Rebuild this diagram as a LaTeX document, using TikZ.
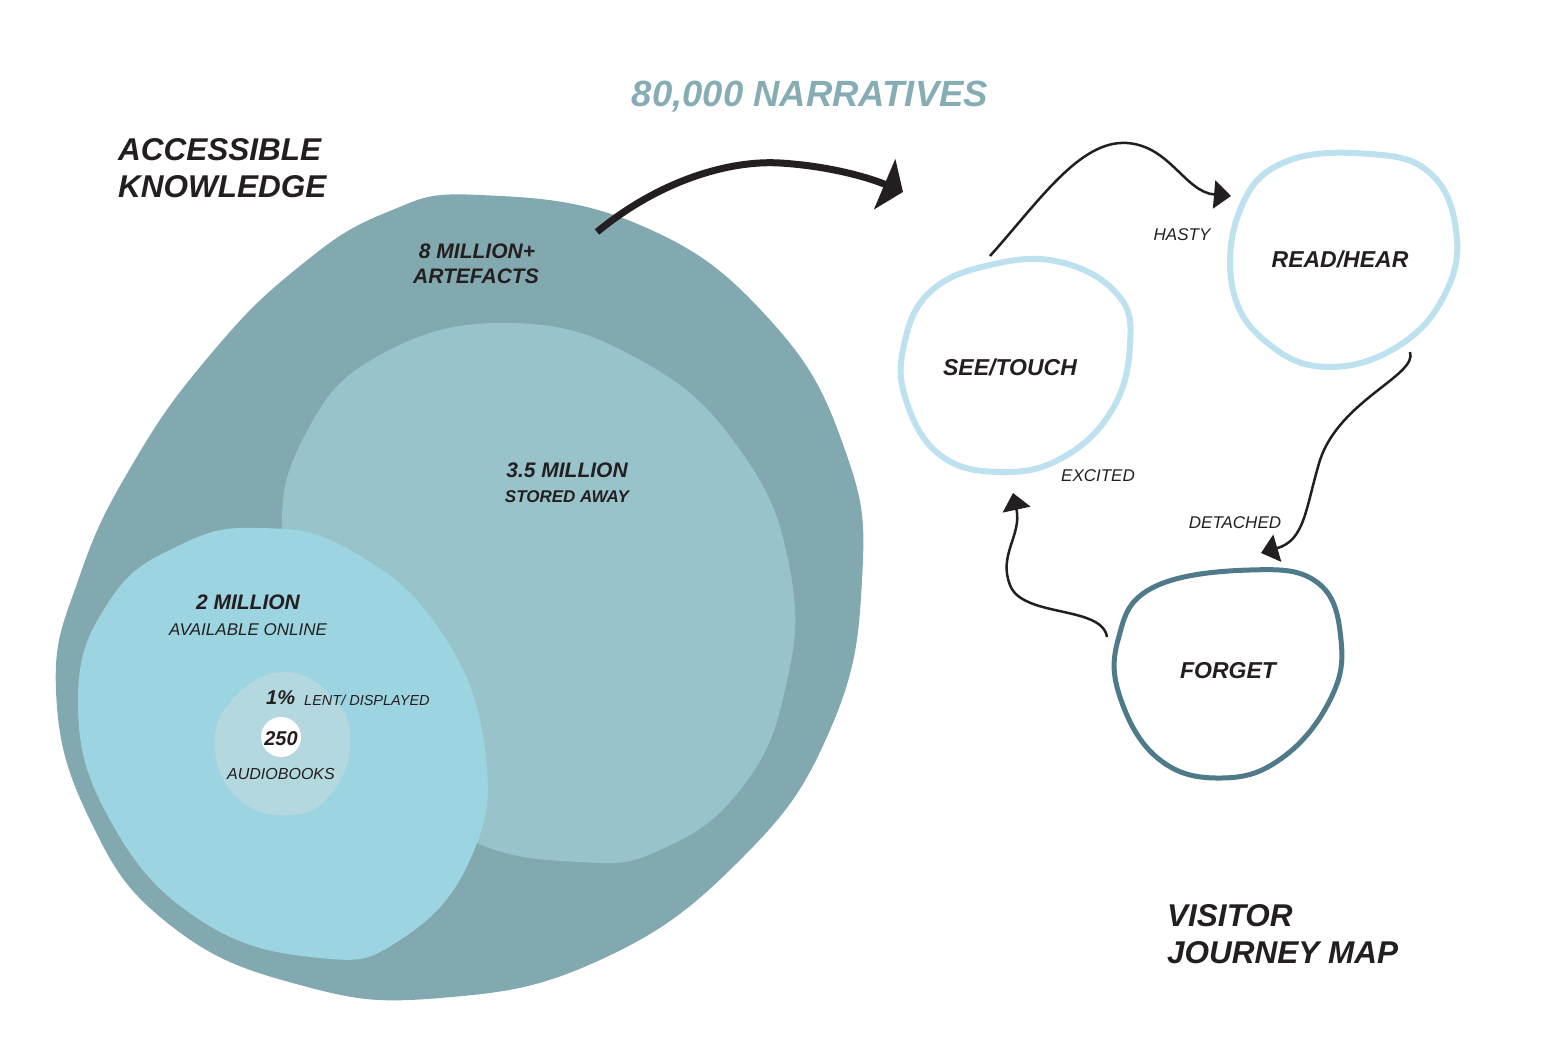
\documentclass[tikz,border=0pt]{standalone}
\usepackage{fontspec}
\setmainfont{Liberation Sans}
\usetikzlibrary{arrows.meta}
\definecolor{outerc}{HTML}{82A9AF}
\definecolor{midc}{HTML}{98C3CB}
\definecolor{innerc}{HTML}{9DD4E1}
\definecolor{smallc}{HTML}{B4D8DF}
\definecolor{titlec}{HTML}{86ADB4}
\definecolor{lightring}{HTML}{BDE1EF}
\definecolor{darkring}{HTML}{4E7A8A}
\definecolor{ink}{HTML}{231F20}
\tikzset{
  headline/.style={font=\fontsize{31.5}{37}\selectfont\bfseries\itshape, text=ink, align=left, inner sep=0pt},
  figbold/.style={font=\fontsize{21}{24}\selectfont\bfseries\itshape, text=ink, inner sep=0pt},
  figsub/.style={font=\fontsize{17}{20}\selectfont\itshape, text=ink, inner sep=0pt},
  figsubb/.style={font=\fontsize{17}{20}\selectfont\bfseries\itshape, text=ink, inner sep=0pt},
  statelabel/.style={font=\fontsize{23}{26}\selectfont\bfseries\itshape, text=ink, inner sep=0pt},
  moodlabel/.style={font=\fontsize{17}{20}\selectfont\itshape, text=ink, inner sep=0pt},
  ring/.style={draw=lightring, line width=6pt},
  darkringst/.style={draw=darkring, line width=5pt},
  flow/.style={draw=ink, line width=2.5pt, -{Triangle[length=17pt,width=28pt]}},
}
\begin{document}
\begin{tikzpicture}[x=1pt,y=-1pt]
\useasboundingbox (0,0) rectangle (1544,1048);
% left nested blobs
\fill[outerc] plot[smooth cycle, tension=0.75] coordinates {(480,195) (640,225) (770,320) (845,450) (862,580) (830,730) (740,860) (600,960) (440,998) (300,985) (170,925) (90,820) (56,690) (80,575) (135,460) (210,355) (295,270) (385,213)};
\fill[midc] plot[smooth cycle, tension=0.75] coordinates {(510,323) (640,360) (740,450) (790,570) (785,690) (740,790) (660,850) (580,862) (470,840) (380,770) (310,660) (282,540) (305,435) (380,355)};
\fill[innerc] plot[smooth cycle, tension=0.75] coordinates {(260,528) (350,550) (440,630) (485,750) (470,860) (400,940) (320,958) (200,920) (110,820) (78,700) (110,600) (180,545)};
\fill[smallc] plot[smooth cycle, tension=0.75] coordinates {(285,672) (335,700) (350,745) (330,795) (290,815) (240,800) (215,750) (232,700)};
\fill[white] (281,737) circle (20);

\node[headline, anchor=base west] (ak) at (118,198) {ACCESSIBLE\\KNOWLEDGE};
\node[font=\fontsize{36.5}{40}\selectfont\bfseries\itshape, text=titlec, anchor=base, inner sep=0pt] (narr) at (810,107) {80,000 NARRATIVES};
\node[figbold, anchor=base] (art1) at (477,259) {8 MILLION+};
\node[figbold, anchor=base] (art2) at (476,284) {ARTEFACTS};
\node[figbold, anchor=base] (st1) at (567,477) {3.5 MILLION};
\node[figsubb, anchor=base] (st2) at (567,502) {STORED AWAY};
\node[figbold, anchor=base] (on1) at (248,609) {2 MILLION};
\node[figsub, anchor=base] (on2) at (248,635) {AVAILABLE ONLINE};
\node[font=\fontsize{20}{24}\selectfont\bfseries\itshape, text=ink, anchor=base west, inner sep=0pt] (pc) at (266,704) {1\%};
\node[font=\fontsize{14.5}{17}\selectfont\itshape, text=ink, anchor=base west, inner sep=0pt] (lent) at (304,705) {LENT/ DISPLAYED};
\node[font=\fontsize{20}{24}\selectfont\bfseries\itshape, text=ink, anchor=base, inner sep=0pt] (aud1) at (281,745) {250};
\node[font=\fontsize{16}{19}\selectfont\itshape, text=ink, anchor=base, inner sep=0pt] (aud2) at (281,779) {AUDIOBOOKS};

% big arrow
\coordinate (bigstart) at (597,232);
\coordinate (bigend) at (903,192);
\draw[draw=ink, line width=7pt, -{Triangle[length=20pt,width=54pt]}] (bigstart) .. controls (660,180) and (730,160) .. (780,163) .. controls (830,166) and (870,178) .. (bigend);

% journey rings
\draw[ring] plot[smooth cycle, tension=0.7] coordinates {(990,265) (1060,262) (1118,295) (1130,345) (1112,410) (1062,458) (1000,472) (940,455) (906,400) (904,345) (930,292)};
\draw[ring] plot[smooth cycle, tension=0.7] coordinates {(1285,162) (1370,154) (1430,173) (1456,230) (1446,292) (1400,345) (1330,367) (1270,345) (1233,290) (1240,210)};
\draw[darkringst] plot[smooth cycle, tension=0.7] coordinates {(1152,588) (1250,570) (1318,583) (1341,640) (1330,700) (1282,758) (1222,778) (1160,760) (1121,700) (1118,640)};

\node[statelabel] (see) at (1010,367) {SEE/TOUCH};
\node[statelabel] (read) at (1340,259) {READ/HEAR};
\node[statelabel] (forget) at (1228,671) {FORGET};

\node[moodlabel] (hasty) at (1182,235) {HASTY};
\node[moodlabel] (excited) at (1098,476) {EXCITED};
\node[moodlabel] (detached) at (1235,523) {DETACHED};

\coordinate (h1) at (990,256);
\coordinate (h2) at (1231,196);
\coordinate (d1) at (1410,352);
\coordinate (d2) at (1261,553);
\coordinate (e1) at (1107,637);
\coordinate (e2) at (1013,493);
\draw[flow] (h1) .. controls (1040,200) and (1080,140) .. (1127,143) .. controls (1170,146) and (1185,192) .. (h2);
\draw[flow] (d1) .. controls (1418,375) and (1340,400) .. (1320,460) .. controls (1305,510) and (1305,540) .. (d2);
\draw[flow] (e1) .. controls (1102,605) and (1022,618) .. (1010,585) .. controls (998,555) and (1022,535) .. (e2);

\node[headline, anchor=base west] (vj) at (1167,963) {VISITOR\\JOURNEY MAP};
\end{tikzpicture}
\end{document}
